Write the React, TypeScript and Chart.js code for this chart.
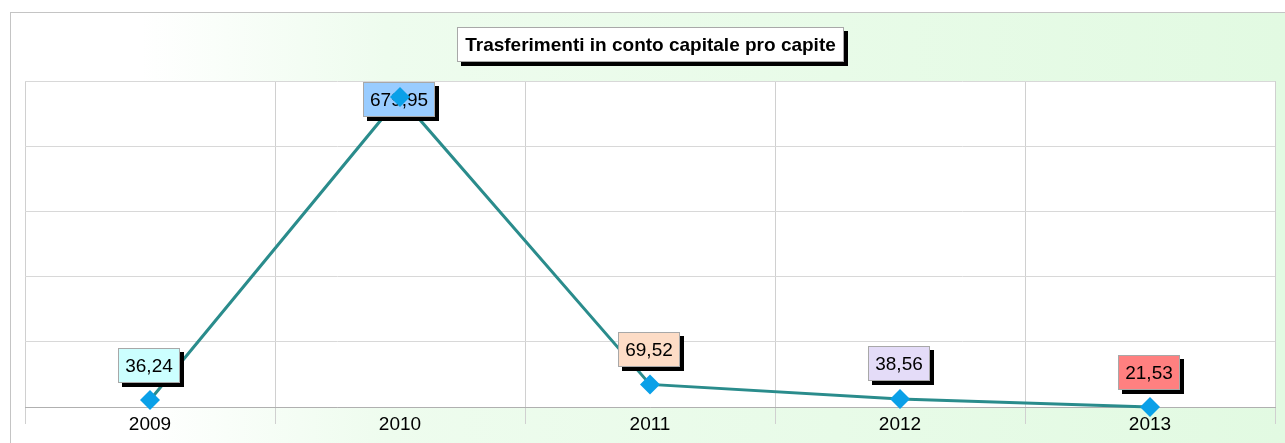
import React, { useEffect, useRef } from "react";
import { Chart, registerables } from "chart.js";

Chart.register(...registerables);

const categories = ["2009", "2010", "2011", "2012", "2013"];
const values = [36.24, 679.95, 69.52, 38.56, 21.53];
const labelColors = ["#ccffff", "#99ccff", "#fddcc6", "#e4dcf8", "#ff8080"];
const titleText = "Trasferimenti in conto capitale pro capite";
const yMin = 21.53;
const yMax = 713.8;
const yGridCount = 5;

const FONT = "Arial, 'Liberation Sans', sans-serif";

const fmt = (v: number) => v.toFixed(2).replace(".", ",");

function drawBox(ctx: CanvasRenderingContext2D, x: number, y: number, w: number, h: number, fill: string) {
  ctx.fillStyle = "#000000";
  ctx.fillRect(x + 4, y + 4, w, h);
  ctx.fillStyle = fill;
  ctx.fillRect(x, y, w, h);
  ctx.strokeStyle = "#a8a8a8";
  ctx.lineWidth = 1;
  ctx.strokeRect(Math.round(x) + 0.5, Math.round(y) + 0.5, Math.round(w) - 1, Math.round(h) - 1);
}

const decorPlugin = {
  id: "decor",
  beforeDraw(chart: any) {
    const { ctx, width, height, chartArea } = chart;
    ctx.save();
    ctx.fillStyle = "#ffffff";
    ctx.fillRect(0, 0, width, height);
    const g = ctx.createLinearGradient(0, 0, width, 0);
    g.addColorStop(0, "#ffffff");
    g.addColorStop(0.11, "#ffffff");
    g.addColorStop(0.3, "#eefcee");
    g.addColorStop(1, "#e2fae2");
    ctx.fillStyle = g;
    ctx.fillRect(10, 12, width, height);
    ctx.strokeStyle = "#c4c4c4";
    ctx.lineWidth = 1;
    ctx.strokeRect(10.5, 12.5, width + 20, height + 20);
    ctx.fillStyle = "#ffffff";
    ctx.fillRect(chartArea.left, chartArea.top, chartArea.right - chartArea.left, chartArea.bottom - chartArea.top);
    ctx.restore();
  },
  afterDatasetDraw(chart: any, args: any) {
    if (args.index !== 0) return;
    const { ctx, chartArea } = chart;
    const meta = chart.getDatasetMeta(0);
    ctx.save();
    ctx.font = `19px ${FONT}`;
    meta.data.forEach((pt: any, i: number) => {
      const text = fmt(values[i]);
      const tw = ctx.measureText(text).width;
      const w = Math.round(tw + 14);
      const h = 35;
      const bx = Math.round(pt.x - w / 2 - 1);
      let by = Math.round(pt.y - 35 - h / 2);
      if (by < chartArea.top + 1) by = chartArea.top + 1;
      drawBox(ctx, bx, by, w, h, labelColors[i]);
      ctx.fillStyle = "#000000";
      ctx.textAlign = "center";
      ctx.textBaseline = "middle";
      ctx.fillText(text, bx + w / 2, by + h / 2 + 1);
    });
    ctx.restore();
  },
  afterDraw(chart: any) {
    const { ctx, chartArea } = chart;
    ctx.save();
    ctx.font = `bold 19px ${FONT}`;
    const tw = ctx.measureText(titleText).width;
    const w = Math.round(tw + 16);
    const h = 35;
    const cx = (chartArea.left + chartArea.right) / 2;
    const bx = Math.round(cx - w / 2);
    const by = 27;
    drawBox(ctx, bx, by, w, h, "#ffffff");
    ctx.fillStyle = "#000000";
    ctx.textAlign = "center";
    ctx.textBaseline = "middle";
    ctx.fillText(titleText, bx + w / 2, by + h / 2 + 1);
    ctx.restore();
  },
};

export default function App() {
  const ref = useRef<HTMLCanvasElement | null>(null);
  useEffect(() => {
    if (!ref.current) return;
    const chart = new Chart(ref.current, {
      type: "line",
      data: {
        labels: categories,
        datasets: [
          {
            data: values,
            borderColor: "#2a8c8c",
            borderWidth: 3,
            pointRadius: 0,
            tension: 0,
            order: 2,
            clip: false,
          },
          {
            data: values,
            showLine: false,
            pointStyle: "rectRot",
            pointRadius: 10,
            pointBackgroundColor: "#0aa0e8",
            pointBorderWidth: 0,
            order: 1,
            clip: false,
          },
        ],
      },
      options: {
        responsive: false,
        animation: false,
        devicePixelRatio: 1,
        layout: { padding: { left: 25, top: 81, right: 6, bottom: 0 } },
        plugins: { legend: { display: false }, tooltip: { enabled: false }, title: { display: false } },
        scales: {
          x: {
            type: "category",
            offset: true,
            grid: { offset: true, color: "#d0d0d0", tickLength: 17, drawTicks: true },
            border: { color: "#b0b0b0" },
            ticks: { color: "#000000", font: { family: FONT, size: 19 }, padding: -11, maxRotation: 0 },
            afterFit: (s: any) => {
              s.height = 36;
            },
          },
          y: {
            min: yMin,
            max: yMax,
            grid: { color: "#d8d8d8", drawTicks: false },
            border: { display: false },
            ticks: { display: false },
            afterBuildTicks: (s: any) => {
              const step = (yMax - yMin) / yGridCount;
              s.ticks = Array.from({ length: yGridCount + 1 }, (_, i) => ({ value: yMin + i * step }));
            },
            afterFit: (s: any) => {
              s.width = 0;
            },
          },
        },
      },
      plugins: [decorPlugin],
    });
    return () => chart.destroy();
  }, []);
  return (
    <div style={{ position: "fixed", left: 0, top: 0, width: 1285, height: 443 }}>
      <canvas ref={ref} width={1285} height={443} style={{ display: "block" }} />
    </div>
  );
}
